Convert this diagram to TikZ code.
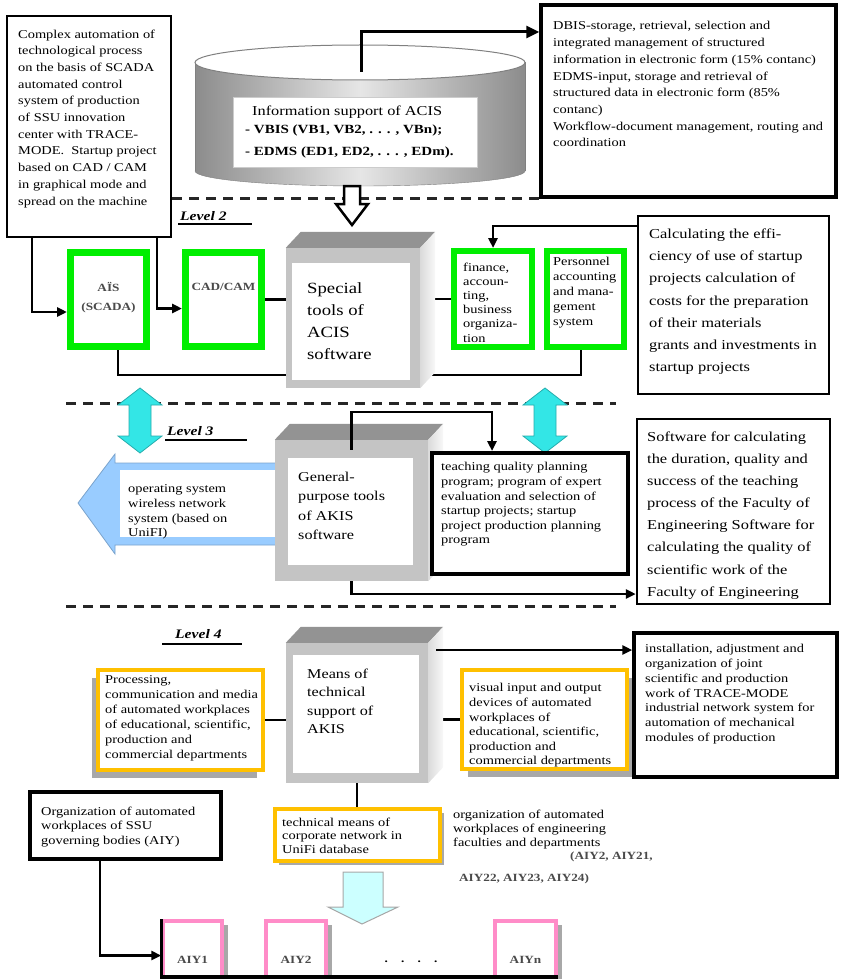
\documentclass[tikz,border=0pt]{standalone}
\usepackage{fontspec}
\setmainfont[FakeStretch=1.2]{Liberation Serif}
\usetikzlibrary{arrows.meta,fit,calc}
\pgfdeclarelayer{bg}
\pgfsetlayers{bg,main}
\definecolor{grn}{HTML}{00EE00}
\definecolor{ylw}{HTML}{FFC000}
\definecolor{pnk}{HTML}{FF8CC8}
\definecolor{cyanA}{HTML}{33E6E6}
\definecolor{blueA}{HTML}{99CCFF}
\definecolor{cyanB}{HTML}{CCFFFF}
\definecolor{cubefr}{HTML}{C4C4C4}
\definecolor{cubetop}{HTML}{939393}
\definecolor{cubeside}{HTML}{DADADA}
\definecolor{cylD}{HTML}{8C8C8C}
\definecolor{cylL}{HTML}{E6E6E6}
\definecolor{shad}{HTML}{A8A8A8}
\definecolor{txtgray}{HTML}{4A4A4A}
\begin{document}
\begin{tikzpicture}[x=1pt,y=-1pt,
  conn/.style={line width=2.5pt, draw=black},
  arr/.style={conn, -{Triangle[length=10pt,width=9pt]}},
  blk/.style={draw=black, line width=#1, fill=white, inner sep=0pt}, blk/.default=2.5pt,
  gbox/.style={draw=grn, line width=7pt, fill=white, inner sep=0pt},
  ybox/.style={draw=ylw, line width=3.5pt, fill=white, inner sep=0pt},
  pbox/.style={draw=pnk, line width=3.5pt, fill=white, inner sep=0pt},
  cubebox/.style={fill=cubefr, draw=none, inner sep=0pt},
  whitebox/.style={fill=white, draw=none, inner sep=0pt},
  txt/.style={anchor=north west, align=left, inner sep=0pt, font=\fontsize{12}{#1}\selectfont}, txt/.default=14.6,
  bigtxt/.style={anchor=north west, align=left, inner sep=0pt, font=\fontsize{13.7}{#1}\selectfont}, bigtxt/.default=22.2,
  cubetxt/.style={anchor=north west, align=left, inner sep=0pt, font=\fontsize{13.5}{#1}\selectfont},
  boldlab/.style={align=center, inner sep=0pt, text=txtgray, font=\fontsize{11}{19}\selectfont\bfseries},
  lvl/.style={anchor=base west, inner sep=0pt, font=\fontsize{13}{15}\selectfont\bfseries\itshape},
  levsep/.style={line width=3pt, dash pattern=on 10pt off 7pt, draw=black!85}
]
\useasboundingbox (0,0) rectangle (840,979);
\clip (0,0) rectangle (840,979);

% ---------------- top-left box
\node[blk, fit={(7,16) (171,237)}] (tl) {};
\node[txt=16.7] (tltx) at (18,29.4) {Complex automation of\\technological process\\on the basis of SCADA\\automated control\\system of production\\of SSU innovation\\center with TRACE-\\MODE.\ \ Startup project\\based on CAD / CAM\\in graphical mode and\\spread on the machine};

% ---------------- top-right box
\node[blk=3.5pt, fit={(541,5) (836,197)}] (tr) {};
\node[txt=16.7] (trtx) at (553,21.4) {DBIS-storage, retrieval, selection and\\integrated management of structured\\information in electronic form (15\% contanc)\\EDMS-input, storage and retrieval of\\structured data in electronic form (85\%\\contanc)\\Workflow-document management, routing and\\coordination};

% ---------------- cylinder
\shade[left color=cylD, right color=cylD, middle color=cylL, draw=gray] (360,171) ellipse [x radius=165, y radius=15];
\shade[left color=cylD, right color=cylD, middle color=cylL] (195,62.5) rectangle (525,171);
\draw[gray, line width=0.8pt] (195,62.5) -- (195,171) (525,62.5) -- (525,171);
\draw[fill=white, draw=gray, line width=1pt] (360,62.5) ellipse [x radius=165, y radius=17.5];
\node[whitebox, draw=gray!40, line width=0.6pt, fit={(233,97) (477,167)}] (cyl) {};
\node[anchor=base west, inner sep=0pt, font=\fontsize{13.6}{16}\selectfont] (cyl1) at (252,116) {Information support of ACIS};
\node[anchor=base west, inner sep=0pt, font=\fontsize{12.5}{16}\selectfont\bfseries] (cyl2) at (245,134) {- VBIS (VB1, VB2, . . . , VBn);};
\node[anchor=base west, inner sep=0pt, font=\fontsize{12.5}{16}\selectfont\bfseries] (cyl3) at (245,155) {- EDMS (ED1, ED2, . . . , EDm).};
\coordinate (cyltop) at (361,72);
\draw[line width=3pt, -{Triangle[length=13pt,width=12pt]}] (cyltop) |- ([yshift=69pt]tr.west);

% ---------------- level 2
\draw[levsep] (172,198) -- (540,198);
\draw[line width=2.5pt, fill=white, line join=miter] (344,186) -- (360,186) -- (360,204) -- (368,204) -- (352,225) -- (336,204) -- (344,204) -- cycle;
\node[lvl] (lv2) at (180,220) {Level 2};
\draw[line width=1.2pt] (178,224) -- (252,224);

\node[gbox, fit={(70.5,252.5) (146.5,346.5)}] (ais) {};
\node[boldlab] (aistx) at (108.5,297.5) {AÏS\\(SCADA)};
\node[gbox, fit={(185.5,252.5) (261.5,346.5)}] (cad) {};
\node[boldlab] (cadtx) at (223.5,287) {CAD/CAM};

\node[gbox, line width=6pt, fit={(454,251) (532,347)}] (fin) {};
\node[txt=14.2] (fintx) at (463,262.4) {finance,\\accoun-\\ting,\\business\\organiza-\\tion};
\node[gbox, line width=6pt, fit={(547,251) (624,347)}] (pers) {};
\node[txt=15] (perstx) at (553,257.4) {Personnel\\accounting\\and mana-\\gement\\system};

\node[blk, fit={(638,216) (829,394)}] (calc) {};
\node[bigtxt=22.2] (calctx) at (649,228.6) {Calculating the effi-\\ciency of use of startup\\projects calculation of\\costs for the preparation\\of their materials\\grants and investments in\\startup projects};

% special cube
\node[cubebox, fit={(286,248) (420,388)}] (sp) {};
\fill[cubetop] (sp.north west) -- ++(15,-16) -- ([shift={(15pt,16pt)}]sp.north east) -- (sp.north east) -- cycle;
\shade[left color=cubeside, right color=white!95!gray] (sp.north east) -- ++(15,-16) -- ([shift={(15pt,16pt)}]sp.south east) -- (sp.south east) -- cycle;
\node[whitebox, fit={(292,263) (410,380)}] (spin) {};
\node[anchor=north west, align=left, inner sep=0pt, font=\fontsize{15.6}{22}\selectfont] (sptx) at (307,282.7) {Special\\tools of\\ACIS\\software};

\draw[arr] ([xshift=26pt]tl.south west) |- ([yshift=-12.5pt]ais.west);
\draw[arr] ([xshift=151pt]tl.south west) |- ([yshift=-9pt]cad.west);
\draw[conn] (cad.east) -- (cad.east -| sp.west);
\draw[arr] ([yshift=79pt]calc.west) -| (fin.north);
\begin{pgfonlayer}{bg}
\draw[conn] ([xshift=9.5pt]ais.south) -- ++(0,25) -| ([xshift=-4.5pt]pers.south);
\draw[conn] (fin.west) -- (fin.west -| sp.east);
\end{pgfonlayer}

% ---------------- level 3
\draw[levsep] (66,403) -- (616,403);
\draw[fill=cyanA, draw=cyanA!75!black, line width=0.8pt] (140,388) -- (162,405) -- (151,405) -- (151,436) -- (162,436) -- (140,453) -- (118,436) -- (129,436) -- (129,405) -- (118,405) -- cycle;
\draw[fill=cyanA, draw=cyanA!75!black, line width=0.8pt] (545,388) -- (567,405) -- (556,405) -- (556,436) -- (567,436) -- (545,453) -- (523,436) -- (534,436) -- (534,405) -- (523,405) -- cycle;
\node[lvl] (lv3) at (167,435) {Level 3};
\draw[line width=1.2pt] (165,440) -- (247,440);

\draw[fill=blueA, draw=blueA!80!black, line width=0.8pt] (78,503) -- (115,454) -- (115,463) -- (282,463) -- (282,545) -- (115,545) -- (115,554) -- cycle;
\node[whitebox, fit={(120,470) (280,537)}] (arrin) {};
\node[txt=14.8] (arrtx) at (128,484.4) {operating system\\wireless network\\system (based on\\UniFI)};

\node[cubebox, fit={(275,440) (428,581)}] (gen) {};
\fill[cubetop] (gen.north west) -- ++(15,-16) -- ([shift={(15pt,16pt)}]gen.north east) -- (gen.north east) -- cycle;
\shade[left color=cubeside, right color=white!95!gray] (gen.north east) -- ++(15,-16) -- ([shift={(15pt,16pt)}]gen.south east) -- (gen.south east) -- cycle;
\node[whitebox, fit={(288,458) (413,565)}] (genin) {};
\node[cubetxt=19.5] (gentx) at (298,471.7) {General-\\purpose tools\\of AKIS\\software};

\node[blk=4pt, fit={(432,453) (628,574)}] (teach) {};
\node[txt=14.6] (teachtx) at (441,462.4) {teaching quality planning\\program; program of expert\\evaluation and selection of\\startup projects; startup\\project production planning\\program};

\node[blk, fit={(637,419) (830,604)}] (soft) {};
\node[bigtxt=22.1] (softtx) at (647,431.6) {Software for calculating\\the duration, quality and\\success of the teaching\\process of the Faculty of\\Engineering Software for\\calculating the quality of\\scientific work of the\\Faculty of Engineering};

\draw[arr] ([yshift=-10pt]gen.north) -- ++(0,-38) -| ([xshift=-38pt]teach.north);
\draw[arr] (gen.south) |- ([yshift=-82.5pt]soft.west);

% ---------------- level 4
\draw[levsep] (66,606) -- (616,606);
\node[lvl] (lv4) at (175,638) {Level 4};
\draw[line width=1.2pt] (162,644) -- (242,644);

\fill[shad] (92,678) rectangle (257,778);
\node[ybox, fit={(98,670) (263,770)}] (ly) {};
\node[txt=15] (lytx) at (105,675.4) {Processing,\\communication and media\\of automated workplaces\\of educational, scientific,\\production and\\commercial departments};

\fill[shad] (468,678) rectangle (633,777);
\node[ybox, fit={(462,670) (627,769)}] (ry) {};
\node[txt=14.6] (rytx) at (469,683.4) {visual input and output\\devices of automated\\workplaces of\\educational, scientific,\\production and\\commercial departments};

\node[blk=3.5pt, fit={(634,633) (837,777)}] (inst) {};
\node[txt=14.7] (insttx) at (645,644.4) {installation, adjustment and\\organization of joint\\scientific and production\\work of TRACE-MODE\\industrial network system for\\automation of mechanical\\modules of production};

\node[cubebox, fit={(286,643) (428,783)}] (means) {};
\fill[cubetop] (means.north west) -- ++(15,-16) -- ([shift={(15pt,16pt)}]means.north east) -- (means.north east) -- cycle;
\shade[left color=cubeside, right color=white!95!gray] (means.north east) -- ++(15,-16) -- ([shift={(15pt,16pt)}]means.south east) -- (means.south east) -- cycle;
\node[whitebox, fit={(293,655) (419,773)}] (meansin) {};
\node[cubetxt=18.5] (meanstx) at (307,668.7) {Means of\\technical\\support of\\AKIS};

\draw[conn] (ly.east) -- (ly.east -| means.west);
\begin{pgfonlayer}{bg}
\draw[conn] (ry.west) -- (ry.west -| means.east);
\end{pgfonlayer}
\draw[arr] ([yshift=55pt,xshift=-196pt]inst.west) -- ([yshift=55pt]inst.west);

% ---------------- bottom
\node[blk=3.5pt, fit={(30,792) (221,859)}] (org) {};
\node[txt=14.5] (orgtx) at (41,806.4) {Organization of automated\\workplaces of SSU\\governing bodies (AIY)};

\fill[shad] (279,813) rectangle (444,865);
\node[ybox, fit={(275,809) (440,861)}] (tech) {};
\node[txt=13.5] (techtx) at (282,817.4) {technical means of\\corporate network in\\UniFi database};
\draw[conn] (means.south) -- (tech.north -| means.south);

\node[txt=14] (engtx) at (453,809.4) {organization of automated\\workplaces of engineering\\faculties and departments};
\node[anchor=base west, inner sep=0pt, text=txtgray, font=\fontsize{11}{13}\selectfont\bfseries] (aiyl1) at (570,859) {(AIY2, AIY21,};
\node[anchor=base west, inner sep=0pt, text=txtgray, font=\fontsize{11}{13}\selectfont\bfseries] (aiyl2) at (459,881) {AIY22, AIY23, AIY24)};

\draw[fill=cyanB, draw=gray!70, line width=1pt] (343,872) -- (383,872) -- (383,907) -- (398,907) -- (362,924) -- (328,907) -- (343,907) -- cycle;

\fill[shad] (224,925) rectangle (228,979);
\fill[shad] (328,925) rectangle (332,979);
\fill[shad] (558,925) rectangle (562,979);
\node[pbox, fit={(163,921) (222,995)}] (aiy1) {};
\node[pbox, fit={(266,921) (326,995)}] (aiy2) {};
\node[pbox, fit={(495,921) (556,995)}] (aiyn) {};
\draw[line width=3.5pt] (aiy1.north west) -- (aiy1.south west);
\draw[line width=3.5pt] (160,977) -- (558,977);
\node[boldlab] (aiy1tx) at (192.5,960) {AIY1};
\node[boldlab] (aiy2tx) at (296,960) {AIY2};
\node[boldlab] (aiyntx) at (525.5,960) {AIYn};
\node[boldlab, text=black] (dots) at (411,962) {.\ \ \ \ .\ \ \ \ .\ \ \ \ .};

\draw[arr] ([xshift=-25.5pt]org.south) |- ([yshift=2.5pt]aiy1.west);
\end{tikzpicture}
\end{document}
